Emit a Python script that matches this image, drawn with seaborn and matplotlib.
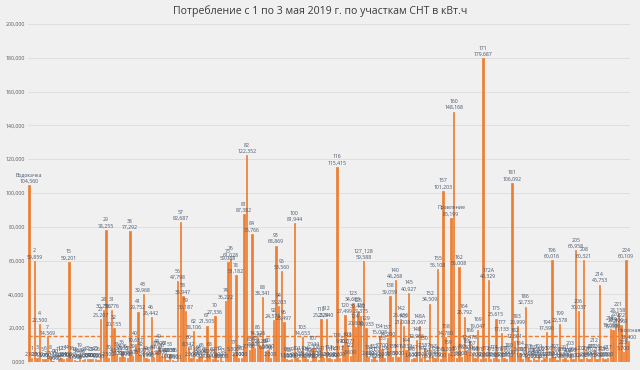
import seaborn as sns
import matplotlib.pyplot as plt
import pandas as pd

# участки и потребление, кВт.ч
plots = (["Водокачка"] + [str(i) for i in range(1, 118)] + ["118_119"]
         + [str(i) for i in range(120, 127)] + ["127_128"]
         + [str(i) for i in range(129, 149)] + ["148А"]
         + [str(i) for i in range(149, 160)] + ["Правление"]
         + [str(i) for i in range(160, 173)] + ["172А"]
         + [str(i) for i in range(173, 225)] + ["Насосная"])

usage = [
    104.560,                                                   # Водокачка
    2.1, 59.859, 2.3, 22.500, 1.5, 1.9, 14.569, 2.7, 0.4, 0.0,  # 1-10
    1.6, 2.2, 1.9, 2.4, 59.201, 1.8, 1.2, 0.5, 3.9, 0.9,        # 11-20
    1.5, 1.7, 1.4, 1.6, 1.8, 1.2, 25.207, 30.736, 78.255, 2.5,  # 21-30
    30.776, 20.155, 4.5, 3.0, 5.6, 3.0, 2.0, 77.292, 3.2, 10.617,  # 31-40
    29.752, 4.3, 39.968, 2.0, 1.5, 26.442, 2.8, 6.1, 8.9, 3.5,  # 41-50
    4.8, 1.0, 4.5, 1.0, 0.5, 47.798, 82.687, 38.947, 30.187, 8.342,  # 51-60
    2.0, 18.106, 1.5, 2.8, 3.8, 1.3, 21.505, 4.2, 1.6, 27.336,  # 61-70
    1.2, 2.0, 0.8, 36.222, 59.088, 61.028, 5.3, 51.182, 2.5, 2.0,  # 71-80
    87.382, 122.352, 7.1, 75.766, 8.0, 14.526, 9.629, 38.341, 6.2, 6.8,  # 81-90
    2.0, 24.575, 68.869, 33.203, 53.560, 23.497, 1.5, 1.0, 1.5, 81.944,  # 91-100
    2.0, 1.0, 14.653, 2.1, 1.5, 0.8, 7.944, 2.6, 0.9, 25.224,  # 101-110
    2.0, 25.540, 2.4, 1.5, 1.8, 115.415, 2.2,                   # 111-117
    9.902,                                                     # 118_119
    27.499, 10.071, 3.6, 34.685, 20.6, 30.402, 27.375,          # 120-126
    59.588,                                                    # 127_128
    19.933, 2.8, 1.5, 3.0, 1.2, 15.098, 7.7, 2.0, 14.2, 39.059,  # 129-138
    3.1, 48.268, 3.0, 25.456, 21.008, 6.832, 40.927, 1.5, 2.3, 12.966,  # 139-148
    21.067,                                                    # 148А
    2.0, 7.587, 1.0, 34.509, 3.2, 2.0, 55.108, 1.5, 101.203, 14.78, 5.2,  # 149-159
    85.199,                                                    # Правление
    148.168, 2.2, 56.008, 3.0, 26.792, 6.3, 12.478, 5.1, 2.0, 19.047,  # 160-169
    1.5, 179.687, 2.0,                                         # 170-172
    48.329,                                                    # 172А
    1.5, 2.5, 25.615, 1.5, 17.133, 2.0, 1.8, 3.6,               # 173-180
    106.092, 12.601, 20.999, 5.0, 1.5, 32.733, 3.1, 1.0, 2.5, 1.0,  # 181-190
    3.4, 1.2, 2.0, 17.590, 2.1, 60.016, 3.0, 1.2, 22.578, 1.5,  # 191-200
    2.3, 1.0, 4.8, 1.5, 65.958, 30.037, 1.8, 60.321, 2.0, 1.5,  # 201-210
    3.0, 6.826, 1.5, 45.753, 2.0, 1.5, 2.5, 19.585, 19.008, 22.3,  # 211-220
    28.158, 21.561, 5.7, 60.109,                               # 221-224
    12.4,                                                      # Насосная
]

avg_usage = 15.6  # пунктирная линия среднего

df = pd.DataFrame({"plot": plots, "usage": usage})

bg = "#f0f0f0"
orange = "#ED7D31"
txt = "#44546A"

sns.set_style("white")
plt.rcParams["font.family"] = ["Open Sans", "DejaVu Sans"]

fig = plt.figure(figsize=(6.4, 3.7), dpi=100, facecolor=bg)
ax = fig.add_axes([0.043, 0.022, 0.942, 0.913])
ax.set_facecolor(bg)

sns.barplot(data=df, x="plot", y="usage", color=orange, width=0.5,
            saturation=1, linewidth=0.5, edgecolor=orange, ax=ax)

def fmt(v):
    return f"{v:.3f}".replace(".", ",")

labels = [f"{p}\n{fmt(v)}" for p, v in zip(plots, usage)]
ax.bar_label(ax.containers[0], labels=labels, fontsize=3.7, color=txt,
             padding=1, linespacing=1.3)

ax.axhline(avg_usage, color=orange, lw=1.0, ls=(0, (3, 1.5)))

ax.set_ylim(0, 200)
ax.set_xlim(-0.6, len(plots) - 0.4)
ax.set_yticks(range(0, 201, 20))
ax.set_yticklabels([fmt(t) for t in range(0, 201, 20)], fontsize=3.8, color="#595959")
ax.tick_params(axis="y", length=0, pad=2)
ax.set_xticks([])
ax.set_xlabel("")
ax.set_ylabel("")
ax.grid(axis="y", color="#dcdcdc", lw=0.6)
ax.set_axisbelow(True)
for s in ax.spines.values():
    s.set_visible(False)

fig.suptitle("Потребление с 1 по 3 мая 2019 г. по участкам СНТ в кВт.ч",
             fontsize=7.6, color="#3a3a3a", y=0.985)

fig.savefig("out.png", dpi=100, facecolor=bg)
